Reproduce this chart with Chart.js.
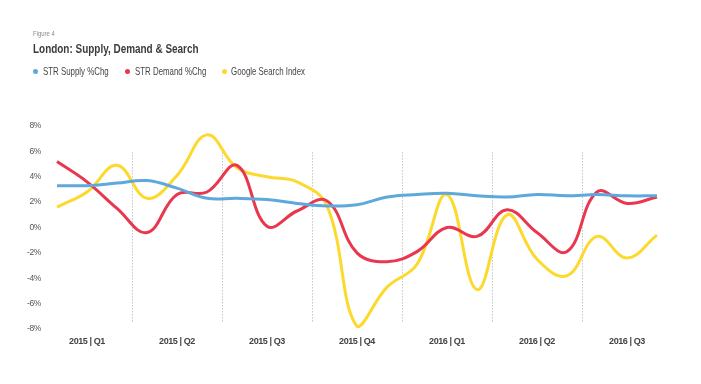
<!DOCTYPE html>
<html>
<head>
<meta charset="utf-8">
<script src="https://cdn.jsdelivr.net/npm/chart.js@4.4.0/dist/chart.umd.min.js"></script>
<style>
  body { margin: 0; background: #fff; }
  #wrap { position: relative; width: 701px; height: 384px; overflow: hidden; font-family: "Liberation Sans", Arial, sans-serif; }
  #chart { position: absolute; left: 0; top: 0; }
  .txt { position: absolute; white-space: nowrap; transform-origin: 0 50%; line-height: 1; }
  .fig { left: 33px; top: 30px; font-size: 7px; color: #8a8a8a; transform: scaleX(0.85); }
  .title { left: 33px; top: 42px; font-size: 13px; font-weight: bold; color: #3b3b3b; transform: scaleX(0.765); }
  .leg { top: 66px; font-size: 10.5px; color: #444; transform: scaleX(0.75); }
  .dot { position: absolute; top: 68.5px; width: 5px; height: 5px; border-radius: 50%; }
</style>
</head>
<body>
<div id="wrap">
  <canvas id="chart" width="701" height="384"></canvas>
  <div class="txt fig">Figure 4</div>
  <div class="txt title">London: Supply, Demand &amp; Search</div>
  <span class="dot" style="left:32.5px;background:#5fa8dc"></span>
  <div class="txt leg" style="left:43px">STR Supply %Chg</div>
  <span class="dot" style="left:125px;background:#e8374f"></span>
  <div class="txt leg" style="left:135px">STR Demand %Chg</div>
  <span class="dot" style="left:221.5px;background:#fcd92c"></span>
  <div class="txt leg" style="left:231px">Google Search Index</div>
</div>
<script>
// monthly points, Jan 2015 - Sep 2016
const months = ['Jan 15', 'Feb 15', 'Mar 15', 'Apr 15', 'May 15', 'Jun 15', 'Jul 15', 'Aug 15', 'Sep 15',
    'Oct 15', 'Nov 15', 'Dec 15', 'Jan 16', 'Feb 16', 'Mar 16', 'Apr 16', 'May 16', 'Jun 16',
    'Jul 16', 'Aug 16', 'Sep 16'];
const quarterLabels = ['2015 | Q1', '2015 | Q2', '2015 | Q3', '2015 | Q4', '2016 | Q1', '2016 | Q2', '2016 | Q3'];

const supply = [3.3, 3.3, 3.5, 3.7, 3.1, 2.3, 2.3, 2.2, 1.9, 1.7, 1.8, 2.4, 2.6, 2.7, 2.5, 2.4, 2.6, 2.5, 2.6, 2.5, 2.5];
const demand = [5.2, 3.6, 1.5, -0.4, 2.6, 2.8, 4.9, 0.1, 1.3, 2.1, -2.0, -2.7, -1.9, 0.0, -0.7, 1.4, -0.4, -1.9, 2.8, 1.9, 2.4];
const search = [1.6, 2.8, 4.9, 2.3, 4.1, 7.3, 4.7, 4.0, 3.6, 1.7, -7.8, -4.7, -2.9, 2.6, -4.9, 1.0, -2.5, -3.8, -0.7, -2.4, -0.6];

const yMin = -8, yMax = 8, yStep = 2;

const axisFont = '"Liberation Sans", Arial, sans-serif';

// tighter letters for the axis labels (the original uses a condensed face)
const tightText = {
    id: 'tightText',
    beforeDraw(chart) {
        chart.ctx.letterSpacing = '-0.4px';
    }
};

// dotted quarter dividers
const quarterLines = {
    id: 'quarterLines',
    beforeDatasetsDraw(chart) {
        const ctx = chart.ctx;
        const x = chart.scales.x, y = chart.scales.y;
        const top = y.getPixelForValue(6) + 1;
        const bottom = y.getPixelForValue(-7.4);
        ctx.save();
        ctx.strokeStyle = '#aaaaaa';
        ctx.lineWidth = 1;
        ctx.setLineDash([1, 2]);
        for (let i = 3; i < months.length; i += 3) {
            const px = Math.round((x.getPixelForValue(i - 1) + x.getPixelForValue(i)) / 2) + 0.5;
            ctx.beginPath();
            ctx.moveTo(px, top);
            ctx.lineTo(px, bottom);
            ctx.stroke();
        }
        ctx.restore();
    }
};

const lineSet = (label, data, color) => ({
    label: label,
    data: data,
    borderColor: color,
    backgroundColor: color,
    borderWidth: 3,
    tension: 0.4,
    pointRadius: 0,
    fill: false
});

const chartData = {
    labels: months,
    datasets: [
        lineSet('STR Supply %Chg', supply, '#5fa8dc'),
        lineSet('STR Demand %Chg', demand, '#e8374f'),
        lineSet('Google Search Index', search, '#fcd92c')
    ]
};

const chartConfig = {
    type: 'line',
    data: chartData,
    options: {
        responsive: false,
        animation: false,
        layout: { padding: { top: 126, right: 29, bottom: 0, left: 0 } },
        plugins: { legend: { display: false }, tooltip: { enabled: false } },
        scales: {
            x: {
                offset: true,
                grid: { display: false, drawTicks: false },
                border: { display: false },
                ticks: {
                    autoSkip: false,
                    maxRotation: 0,
                    padding: 7,
                    color: '#444',
                    font: { family: axisFont, size: 9, weight: 'bold' },
                    callback: (v, i) => (i % 3 === 1 ? quarterLabels[(i - 1) / 3] : '')
                },
                afterFit: (s) => { s.height = 55; }
            },
            y: {
                min: yMin,
                max: yMax,
                grid: { display: false, drawTicks: false },
                border: { display: false },
                ticks: {
                    stepSize: yStep,
                    padding: 1,
                    color: '#555',
                    font: { family: axisFont, size: 8.5 },
                    callback: (v) => v + '%'
                },
                afterFit: (s) => { s.width = 42; }
            }
        }
    },
    plugins: [tightText, quarterLines]
};

const myChart = new Chart(document.getElementById('chart'), chartConfig);
</script>
</body>
</html>
